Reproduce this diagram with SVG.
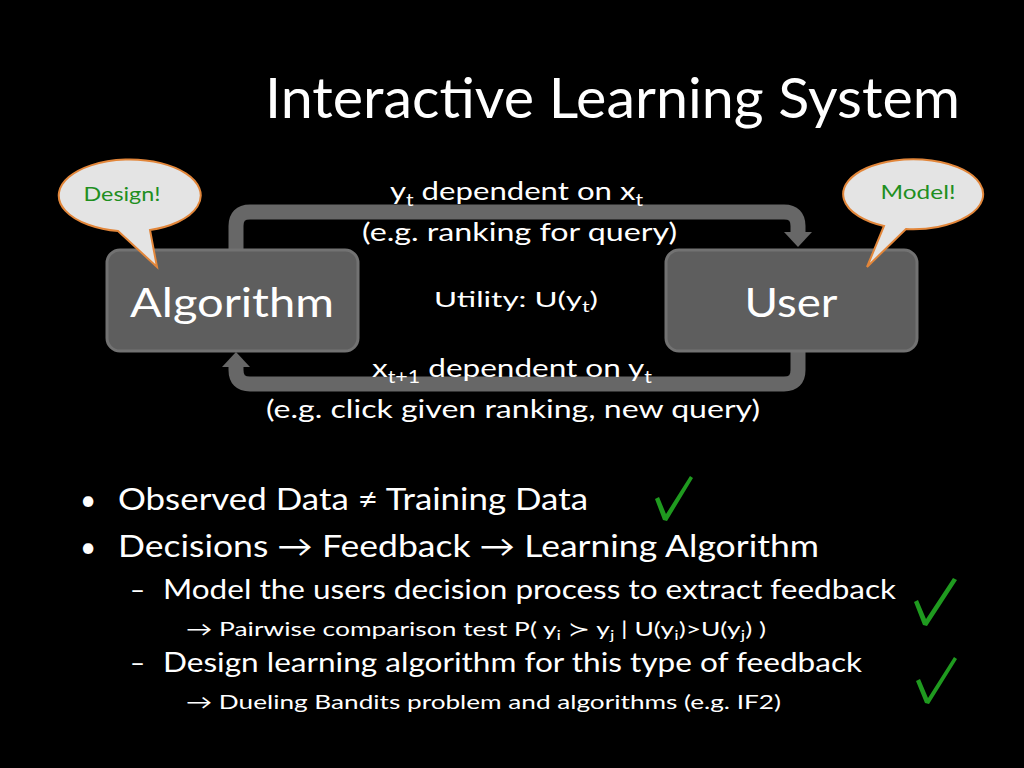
<svg xmlns="http://www.w3.org/2000/svg" width="1024" height="768" viewBox="0 0 1024 768">
<style>
text{font-family:Lato,"Open Sans",sans-serif;fill:#fff}
.box{fill:#5e5e5e;stroke:#727272;stroke-width:3}
.band{fill:none;stroke:#676767;stroke-width:15;stroke-linejoin:round}
.bubble{fill:#e4e4e4;stroke:#e2863a;stroke-width:2}
.g{fill:#1f8f1f}
.chk{fill:none;stroke:#1fa01f;stroke-linecap:round;stroke-linejoin:round}
</style>
<rect width="1024" height="768" fill="#000"/>
<text x="265" y="118" font-size="56" textLength="695" lengthAdjust="spacingAndGlyphs">Interactive Learning System</text>

<g id="connectors">
<path class="band" d="M236 250 V226 Q236 212 250 212 H784 Q798 212 798 226 V234"/>
<polygon points="784,232 812,232 798,247" fill="#676767"/>
<path class="band" d="M798 350 V370 Q798 384 784 384 H250 Q236 384 236 370 V364"/>
<polygon points="222,367 250,367 236,352" fill="#676767"/>
</g>

<g id="algorithm">
<rect class="box" x="107" y="250" width="251" height="101" rx="13"/>
<text x="232" y="317" font-size="40" text-anchor="middle" textLength="204" lengthAdjust="spacingAndGlyphs">Algorithm</text>
</g>
<g id="user">
<rect class="box" x="666" y="250" width="251" height="101" rx="13"/>
<text x="791" y="317" font-size="40" text-anchor="middle" textLength="93" lengthAdjust="spacingAndGlyphs">User</text>
</g>

<g id="design-callout">
<path class="bubble" d="M118 231 A71 36 0 1 1 150 230 L157 267 Z"/>
<text x="122" y="201" font-size="19" text-anchor="middle" class="g" style="fill:#1f8f1f" textLength="77" lengthAdjust="spacingAndGlyphs">Design!</text>
</g>
<g id="model-callout">
<path class="bubble" d="M884 226 A70 35 0 1 1 906 229 L867 267 Z"/>
<text x="918" y="199" font-size="19" text-anchor="middle" style="fill:#1f8f1f" textLength="75" lengthAdjust="spacingAndGlyphs">Model!</text>
</g>

<g id="labels" font-size="25">
<text x="390" y="200" textLength="253" lengthAdjust="spacingAndGlyphs">y<tspan font-size="17" dy="6">t</tspan><tspan dy="-6"> dependent on x</tspan><tspan font-size="17" dy="6">t</tspan></text>
<text x="362" y="241" textLength="315" lengthAdjust="spacingAndGlyphs">(e.g. ranking for query)</text>
<text x="434" y="307" font-size="22" textLength="164" lengthAdjust="spacingAndGlyphs">Utility: U(y<tspan font-size="15" dy="5">t</tspan><tspan dy="-5">)</tspan></text>
<text x="372" y="377" textLength="280" lengthAdjust="spacingAndGlyphs">x<tspan font-size="17" dy="6">t+1</tspan><tspan dy="-6"> dependent on y</tspan><tspan font-size="17" dy="6">t</tspan></text>
<text x="266" y="418" textLength="494" lengthAdjust="spacingAndGlyphs">(e.g. click given ranking, new query)</text>
</g>

<g id="bullets">
<text x="80" y="510" font-size="28">•</text>
<text x="118" y="510" font-size="30" textLength="470" lengthAdjust="spacingAndGlyphs">Observed Data ≠ Training Data</text>
<text x="80" y="557" font-size="28">•</text>
<text x="118" y="557" font-size="30" textLength="701" lengthAdjust="spacingAndGlyphs">Decisions → Feedback → Learning Algorithm</text>
<text x="130" y="599" font-size="26">–</text>
<text x="163" y="599" font-size="26" textLength="733" lengthAdjust="spacingAndGlyphs">Model the users decision process to extract feedback</text>
<text x="186" y="636" font-size="20" textLength="580" lengthAdjust="spacingAndGlyphs">→ Pairwise comparison test P( y<tspan font-size="14" dy="4">i</tspan><tspan dy="-4"> ≻ y</tspan><tspan font-size="14" dy="4">j</tspan><tspan dy="-4"> | U(y</tspan><tspan font-size="14" dy="4">i</tspan><tspan dy="-4">)&gt;U(y</tspan><tspan font-size="14" dy="4">j</tspan><tspan dy="-4">) )</tspan></text>
<text x="130" y="672" font-size="26">–</text>
<text x="163" y="672" font-size="26" textLength="699" lengthAdjust="spacingAndGlyphs">Design learning algorithm for this type of feedback</text>
<text x="186" y="709" font-size="20" textLength="595" lengthAdjust="spacingAndGlyphs">→ Dueling Bandits problem and algorithms (e.g. IF2)</text>
</g>

<g id="checks">
<path d="M655 499 L659 497 L666 514 L690 476 L693 478 L667 521 L663 520 Z" fill="#1f9a1f"/>
<path d="M914 602 L918 600 L926 619 L953 578 L957 580 L927 626 L923 625 Z" fill="#1f9a1f"/>
<path d="M916 681 L920 679 L928 698 L954 657 L957 659 L929 704 L925 703 Z" fill="#1f9a1f"/>
</g>
</svg>
